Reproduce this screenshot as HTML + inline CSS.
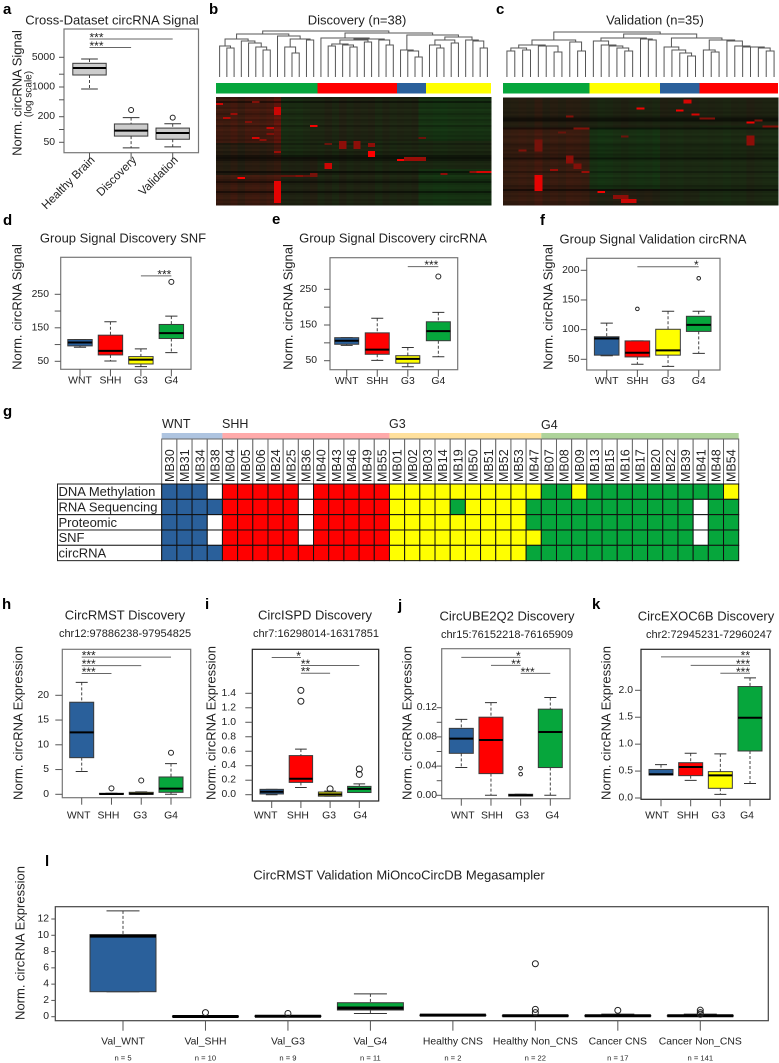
<!DOCTYPE html>
<html lang="en">
<head>
<meta charset="utf-8">
<title>circRNA signal figure</title>
<style>
html,body{margin:0;padding:0;background:#fff;}
svg{display:block;font-family:"Liberation Sans",Arial,sans-serif;fill:#222;filter:blur(0.3px);}
.ttl{font-size:13px;text-anchor:middle;dominant-baseline:central;}
.sub{font-size:11px;text-anchor:middle;dominant-baseline:central;}
.yt{font-size:13px;text-anchor:middle;dominant-baseline:central;}
.let{font-size:15px;font-weight:bold;fill:#000;}
.grp{font-size:12.5px;dominant-baseline:central;}
</style>
</head>
<body>
<svg id="fig" xmlns="http://www.w3.org/2000/svg" width="779" height="1063" viewBox="0 0 779 1063">
<rect x="0" y="0" width="779" height="1063" fill="#fff"/>

<text class="let" x="3" y="14">a</text>
<text class="let" x="209" y="14">b</text>
<text class="let" x="496" y="14">c</text>
<text class="let" x="3" y="225">d</text>
<text class="let" x="272" y="224">e</text>
<text class="let" x="540" y="225">f</text>
<text class="let" x="3" y="416">g</text>
<text class="let" x="2" y="609">h</text>
<text class="let" x="205" y="609">i</text>
<text class="let" x="398" y="610">j</text>
<text class="let" x="592" y="609">k</text>
<text class="let" x="45" y="866">l</text>

<text class="ttl" x="112" y="20">Cross-Dataset circRNA Signal</text>
<text class="yt" transform="translate(17 93) rotate(-90)">Norm. circRNA Signal</text>
<text font-size="10" text-anchor="middle" dominant-baseline="central" transform="translate(29 94) rotate(-90)">(log scale)</text>
<g id="panel-a"></g>

<text class="ttl" x="357" y="20">Discovery (n=38)</text>
<g id="panel-b"></g>

<text class="ttl" x="655" y="20">Validation (n=35)</text>
<g id="panel-c"></g>

<text class="ttl" x="123" y="238">Group Signal Discovery SNF</text>
<text class="yt" transform="translate(17 307) rotate(-90)">Norm. circRNA Signal</text>
<g id="panel-d"></g>

<text class="ttl" x="393" y="238">Group Signal Discovery circRNA</text>
<text class="yt" transform="translate(288 307) rotate(-90)">Norm. circRNA Signal</text>
<g id="panel-e"></g>

<text class="ttl" x="653" y="239">Group Signal Validation circRNA</text>
<text class="yt" transform="translate(548 307) rotate(-90)">Norm. circRNA Signal</text>
<g id="panel-f"></g>

<text class="grp" x="162" y="424">WNT</text>
<text class="grp" x="222" y="424">SHH</text>
<text class="grp" x="389" y="424">G3</text>
<text class="grp" x="541" y="425">G4</text>
<g id="panel-g"></g>

<text class="ttl" x="125" y="615">CircRMST Discovery</text>
<text class="sub" x="125" y="634">chr12:97886238-97954825</text>
<text class="yt" transform="translate(18 723) rotate(-90)">Norm. circRNA Expression</text>
<g id="panel-h"></g>

<text class="ttl" x="315" y="615">CircISPD Discovery</text>
<text class="sub" x="316" y="634">chr7:16298014-16317851</text>
<text class="yt" transform="translate(211 723) rotate(-90)">Norm. circRNA Expression</text>
<g id="panel-i"></g>

<text class="ttl" x="507" y="616">CircUBE2Q2 Discovery</text>
<text class="sub" x="507" y="635">chr15:76152218-76165909</text>
<text class="yt" transform="translate(407 723) rotate(-90)">Norm. circRNA Expression</text>
<g id="panel-j"></g>

<text class="ttl" x="706" y="616">CircEXOC6B Discovery</text>
<text class="sub" x="709" y="635">chr2:72945231-72960247</text>
<text class="yt" transform="translate(606 723) rotate(-90)">Norm. circRNA Expression</text>
<g id="panel-k"></g>

<text class="ttl" x="399" y="875">CircRMST Validation MiOncoCircDB Megasampler</text>
<text class="yt" transform="translate(20 943) rotate(-90)">Norm. circRNA Expression</text>
<g id="panel-l"></g>
</svg>

<script>
// ---------- Box plot data: each stats row is [upper whisker, Q3, median, Q1, lower whisker] ----------
const groupCats = ['WNT', 'SHH', 'G3', 'G4'];

const aCats = ['Healthy Brain', 'Discovery', 'Validation'];
const aStats = [[4560, 3610, 2800, 1915, 897], [190, 135, 94, 70, 37], [137, 108, 83, 59, 39]];
const aOutliers = [[], [288], [190]];
const aSig = [[0, 2, 13460, '***', 'start'], [0, 1, 8490, '***', 'start']];
const aTicks = [50, 100, 200, 500, 1000, 2000, 5000];
const aTickLabels = ['50', '', '200', '', '1000', '', '5000'];

const dStats = [[115, 115, 106, 96, 92], [168, 128, 81, 69, 51], [87, 64, 55, 42, 34], [185, 160, 134, 118, 76]];
const dOutliers = [[], [], [], [287]];
const dSig = [[2, 3, 305, '***', 'end']];
const dTicks = [50, 100, 150, 200, 250];
const dTickLabels = ['50', '', '150', '', '250'];

const eStats = [[114.5, 114.5, 106, 96, 93], [169, 128, 81, 68, 51], [87, 64, 55, 43, 33], [185.5, 159, 133, 106, 61]];
const eOutliers = [[], [], [], [286]];
const eSig = [[2, 3, 313.5, '***', 'end']];
const eTicks = [50, 100, 150, 200, 250];
const eTickLabels = ['50', '', '150', '', '250'];

const fStats = [[111, 88, 85, 57, 56], [81, 81, 61, 54, 41.6], [131, 100.6, 65, 57, 38], [131, 122.5, 108, 97, 60]];
const fOutliers = [[], [135], [], [186.5]];
const fSig = [[1, 3, 206, '*', 'end']];
const fTicks = [50, 100, 150, 200];
const fTickLabels = ['50', '100', '150', '200'];

const hStats = [[22.6, 18.6, 12.5, 7.4, 4.6], [0.2, 0.2, 0.07, 0, 0], [0.5, 0.4, 0.1, 0, 0], [6.2, 3.5, 1.15, 0.4, 0]];
const hOutliers = [[], [1.2], [2.8], [8.4]];
const hSig = [[0, 3, 27.7, '***', 'start'], [0, 2, 26, '***', 'start'], [0, 1, 24.4, '***', 'start']];
const hTicks = [0, 5, 10, 15, 20];
const hTickLabels = ['0', '5', '10', '15', '20'];

const iStats = [[0.074, 0.074, 0.04, 0.01, 0], [0.63, 0.54, 0.22, 0.17, 0.1], [0.05, 0.037, 0.005, -0.02, -0.02], [0.15, 0.115, 0.08, 0.03, 0.03]];
const iOutliers = [[], [1.44, 1.29], [0.08], [0.355, 0.28]];
const iSig = [[0, 1, 1.894, '*', 'end'], [1, 3, 1.783, '**', 'start'], [1, 2, 1.677, '**', 'start']];
const iTicks = [0, 0.2, 0.4, 0.6, 0.8, 1, 1.2, 1.4];
const iTickLabels = ['0.0', '0.2', '0.4', '0.6', '0.8', '1.0', '1.2', '1.4'];

const jStats = [[0.104, 0.0917, 0.0776, 0.0575, 0.038], [0.127, 0.107, 0.0757, 0.0297, 0], [0.0014, 0.0014, 0, -0.001, -0.001], [0.134, 0.118, 0.0867, 0.038, 0]];
const jOutliers = [[], [], [0.037, 0.029], []];
const jSig = [[0, 2, 0.189, '*', 'end'], [1, 2, 0.178, '**', 'end'], [2, 3, 0.167, '***', 'start']];
const jTicks = [0, 0.02, 0.04, 0.06, 0.08, 0.1, 0.12];
const jTickLabels = ['0.00', '', '0.04', '', '0.08', '', '0.12'];

const kStats = [[0.62, 0.53, 0.44, 0.427, 0.427], [0.83, 0.656, 0.576, 0.415, 0.328], [0.82, 0.49, 0.42, 0.18, 0.068], [2.23, 2.07, 1.49, 0.873, 0.27]];
const kOutliers = [[], [], [], []];
const kSig = [[0, 3, 2.62, '**', 'end'], [1, 3, 2.464, '***', 'end'], [2, 3, 2.316, '***', 'end']];
const kTicks = [0, 0.5, 1, 1.5, 2];
const kTickLabels = ['0.0', '0.5', '1.0', '1.5', '2.0'];

const lCats = ['Val_WNT', 'Val_SHH', 'Val_G3', 'Val_G4', 'Healthy CNS', 'Healthy Non_CNS', 'Cancer CNS', 'Cancer Non_CNS'];
const lCounts = ['n = 5', 'n = 10', 'n = 9', 'n = 11', 'n = 2', 'n = 22', 'n = 17', 'n = 141'];
const lStats = [[13, 10.08, 9.9, 3.07, 3.07], [0.06, 0.06, 0.03, 0, 0], [0.1, 0.1, 0.05, 0.02, 0.02], [2.8, 1.72, 1.07, 0.82, 0.4], [0.2, 0.2, 0.19, 0.18, 0.18], [0.14, 0.14, 0.12, 0.1, 0.1], [0.32, 0.14, 0.12, 0.1, 0.1], [0.32, 0.14, 0.12, 0.1, 0.1]];
const lOutliers = [[], [0.5], [0.4], [], [], [6.5, 0.9, 0.5], [0.78], [0.8, 0.5, 0.3]];
const lTicks = [0, 2, 4, 6, 8, 10, 12];
const lTickLabels = ['0', '2', '4', '6', '8', '10', '12'];

// ---------- Heatmap data ----------
const bGroups = [['G4', 14], ['SHH', 11], ['WNT', 4], ['G3', 9]];
const bTree = [46,
  [43,
    [38, [31, 0, [29, 0, 0]], [36, 0, [34, 0, [30, 0, [27, 0, 0]]]]],
    [41, 0, [38, [30, 0, [24, 0, 0]], [37, 0, 0]]]],
  [44,
    [39, 0, [38, [37, [33, [31, 0, 0], [32, 0, [30, 0, 0]]], [35, 0, 0]], [37, 0, [32, 0, 0]]]],
    [42,
      [27, 0, [26, 0, [20, 0, 0]]],
      [40, [37, [32, 0, [29, 0, 0]], [34, 0, 0]], [37, 0, [36, 0, [29, 0, 0]]]]]]];
const bColTint = [.02, 0, .05, -.02, .04, .05, .02, .06, .1, -.05, -.02, -.04, 0, .03, -.03, .03, -.04, .05, -.02, .03, 0, .03, -.05, .02, -.03, 0, -.02, .02, -.03, -.02, -.05, -.06, -.03, -.02, -.01, -.02, -.03, -.02];
const bRowGain = [.8, 1, .55, 1, 1, .9, 1.1, 1, .85, 1, 1.1, .9, 1, 1.1, .8, 1, 1.1, .95, 1, .9, 1, .85, 1, .75, 1, .9, 1.05, .8, .9, .55, .45, .6, .9, 1, .9, .95, 1, .45, .8, 1.1, 1, .85, .55, .9, 1, 1.05, .95, .5, .9, 1, 1.05, .9, 1, .85];
// [first column, end column, first row, end row, value]
const bRegions = [[0, 9, 0, 23, .17], [8, 9, 0, 30, .08], [9, 14, 0, 30, -.1], [14, 28, 0, 22, -.04], [28, 38, 0, 22, -.18], [0, 9, 23, 54, .04], [0, 9, 39, 54, .1], [14, 38, 22, 54, -.07], [28, 38, 36, 54, -.12], [14, 28, 38, 54, .02]];
const bHits = [[0, 1, 3, 4, .8], [1, 2, 10, 11, .7], [2, 3, 8, 9, .6], [4, 5, 12, 13, .5], [5, 6, 2, 3, .5], [5, 6, 20, 21, .85], [6, 7, 21, 22, .55], [7, 8, 15, 16, .75], [7, 8, 18, 19, .5], [8, 9, 5, 9, .8], [8, 9, 27, 28, .6], [13, 14, 14, 15, .95], [15, 16, 23, 24, .4], [15, 16, 33, 36, .8], [17, 18, 22, 26, .55], [19, 20, 22, 26, .55], [21, 22, 23, 25, .55], [21, 22, 27, 30, 1], [25, 26, 31, 32, 1], [26, 29, 30, 32, .6], [28, 29, 20, 21, .4], [31, 32, 38, 39, .55], [35, 36, 37, 38, .55], [36, 38, 37, 38, .85], [3, 4, 40, 41, 1], [8, 9, 42, 53, .9], [9, 13, 39, 40, .35], [11, 12, 39, 40, .5], [13, 14, 38, 40, .45]];

const cGroups = [['G4', 11], ['G3', 9], ['WNT', 5], ['SHH', 10]];
const cTree = [45,
  [37,
    [32, [29, [26, 0, 0], [27, 0, 0]], [31, 0, [31, 0, [25, 0, 0]]]],
    [35, 0, [26, 0, 0]]],
  [43,
    [39, [36, 0, [32, 0, [31, 0, [29, 0, [26, 0, 0]]]]], [38, 0, [37, 0, 0]]],
    [39,
      [30, 0, [27, 0, [24, 0, [21, 0, 0]]]],
      [37, [27, 0, [25, 0, 0]], [36, 0, [31, 0, [30, 0, [30, 0, [29, 0, [26, 0, 0]]]]]]]]]];
const cColTint = [.02, .03, .05, .03, .1, .02, .05, .02, .06, .05, .03, -.03, -.08, -.06, -.02, .02, -.02, -.05, -.03, -.07, -.02, -.04, -.06, -.02, -.03, -.03, -.01, -.02, -.05, -.01, -.02, .04, 0, -.02, -.03];
const cRowGain = [.8, 1, .9, 1, 1, .9, 1, .85, 1, .8, .5, .45, .9, 1, .9, .5, 1, 1, 1.1, .9, 1, 1.1, 1, .8, .9, 1, .85, 1, .8, .9, .5, .9, 1.05, 1, .9, 1, 1.05, .75, 1, 1.1, .9, 1, 1.05, 1, .8, .9, .45, .9, 1, .9, 1, 1.05, .9, .85];
const cRegions = [[0, 35, 0, 14, -.02], [0, 11, 15, 54, .11], [11, 20, 15, 46, -.15], [20, 25, 15, 46, -.08], [25, 35, 14, 54, -.09], [11, 20, 46, 54, .07], [20, 25, 46, 54, -.02], [0, 11, 0, 14, .03], [20, 25, 0, 10, .05]];
const cHits = [[23, 24, 1, 3, .85], [17, 18, 5, 6, .95], [22, 23, 6, 7, .95], [24, 25, 8, 9, .85], [8, 9, 9, 10, .5], [25, 27, 10, 11, .5], [31, 32, 12, 13, .95], [32, 33, 11, 12, .5], [33, 35, 14, 15, .5], [31, 32, 19, 24, .55], [4, 5, 21, 27, .45], [4, 5, 39, 47, .9], [2, 3, 26, 27, .5], [8, 9, 29, 33, .55], [9, 10, 33, 36, .5], [6, 7, 36, 37, .6], [10, 11, 37, 38, .6], [12, 13, 47, 48, .95], [14, 16, 49, 51, .55], [15, 17, 51, 53, .8], [9, 11, 15, 16, .5], [7, 8, 17, 18, .4], [15, 16, 19, 20, .4]];

// ---------- Subgroup grid data ----------
const sampleNames = ['MB30', 'MB31', 'MB34', 'MB38', 'MB04', 'MB05', 'MB06', 'MB24', 'MB25', 'MB36', 'MB40', 'MB43', 'MB46', 'MB49', 'MB55', 'MB01', 'MB02', 'MB03', 'MB14', 'MB19', 'MB50', 'MB51', 'MB52', 'MB53', 'MB47', 'MB07', 'MB08', 'MB09', 'MB13', 'MB15', 'MB16', 'MB17', 'MB20', 'MB22', 'MB39', 'MB41', 'MB48', 'MB54'];
const sampleGroupCounts = [['WNT', 4], ['SHH', 11], ['G3', 10], ['G4', 13]];
const platformNames = ['DNA Methylation', 'RNA Sequencing', 'Proteomic', 'SNF', 'circRNA'];
const platformCalls = [
  'bbbwrrrrrwrrrrryyyyyyyyyyggygggggggggy',
  'bbbbrrrrrwrrrrryyyygyyyyGggggggggggwgg'.toLowerCase(),
  'bbbwrrrrrwrrrrryyyyyyyyygggggggggggwgg',
  'bbbwrrrrrwrrrrryyyyyyyyyyggggggggggwgg',
  'bbbbrrrrrrrrrrryyyyyyyyygggggggggggggg'
];

// ---------- Drawing ----------
const SVGNS = 'http://www.w3.org/2000/svg';
const groupFill = {WNT: '#2a609b', SHH: '#ff0000', G3: '#ffff00', G4: '#06a63c'};
const bandFill = {WNT: '#aec4e0', SHH: '#ffaaaa', G3: '#ffe09c', G4: '#aed39a'};
const callFill = {b: '#2a609b', r: '#ff0000', y: '#ffff00', g: '#06a63c', w: '#ffffff'};

function add(parent, tag, attrs, text) {
  const el = document.createElementNS(SVGNS, tag);
  for (const k in attrs) el.setAttribute(k, attrs[k]);
  if (text !== undefined) el.textContent = text;
  parent.appendChild(el);
  return el;
}

function makeY(layout) {
  const t = layout.log ? Math.log10 : (v => v);
  const [v1, p1, v2, p2] = layout.cal;
  const k = (p2 - p1) / (t(v2) - t(v1));
  return v => p1 + (t(v) - t(v1)) * k;
}

function drawBoxPanel(id, layout, cats, stats, outliers, sigs, ticks, tickLabels, counts) {
  const g = document.getElementById(id);
  const [fx0, fy0, fx1, fy1] = layout.frame;
  const y = makeY(layout);
  const x = i => layout.x0 + i * layout.step;
  const hw = layout.hw;
  const tickLen = layout.ytick || 7;
  const xTickLen = layout.xtick || 7;
  const lineCol = layout.frameCol || '#777';

  const frame = add(g, 'rect', {x: fx0, y: fy0, width: fx1 - fx0, height: fy1 - fy0, fill: 'none', stroke: lineCol, 'stroke-width': 1.2});
  
  

  ticks.forEach((t, i) => {
    const tl = add(g, 'line', {x1: fx0 - tickLen, x2: fx0, y1: y(t), y2: y(t), stroke: '#555', 'stroke-width': 1});
    
    
    if (tickLabels[i]) {
      const lab = add(g, 'text', {x: layout.labelR, y: y(t), 'font-size': 10.4, 'text-anchor': 'end', 'dominant-baseline': 'central'}, tickLabels[i]);
      
      
    }
  });

  cats.forEach((c, i) => {
    const cx = x(i);
    const [hi, q3, med, q1, lo] = stats[i];
    const xt = add(g, 'line', {x1: cx, x2: cx, y1: fy1, y2: fy1 + xTickLen, stroke: '#555', 'stroke-width': 1});
    
    

    const whisk = add(g, 'path', {d: `M${cx} ${y(hi)}V${y(q3)}M${cx} ${y(q1)}V${y(lo)}`, stroke: '#444', 'stroke-width': 1, 'stroke-dasharray': '3 2', fill: 'none'});
    
    
    const caps = add(g, 'path', {d: `M${cx - hw / 2} ${y(hi)}H${cx + hw / 2}M${cx - hw / 2} ${y(lo)}H${cx + hw / 2}`, stroke: '#333', 'stroke-width': 1, fill: 'none'});
    
    

    const fill = layout.fill || groupFill[layout.fills ? layout.fills[i] : c];
    const box = add(g, 'rect', {x: cx - hw, y: y(q3), width: 2 * hw, height: Math.max(0.5, y(q1) - y(q3)), fill: fill, stroke: '#3a3a3a', 'stroke-width': 1});
    
    

    const m = add(g, 'line', {x1: cx - hw, x2: cx + hw, y1: y(med), y2: y(med), stroke: '#000', 'stroke-width': layout.medW || 2});
    
    

    outliers[i].forEach(o => {
      const pt = add(g, 'circle', {cx: cx, cy: y(o), r: layout.outR || 2.5, fill: 'none', stroke: '#222', 'stroke-width': 1});
      
      
    });

    const dx = layout.labelDx ? layout.labelDx[i] : 0;
    if (layout.rot) {
      const tx = cx + 6;
      const ty = fy1 + 8;
      const lab = add(g, 'text', {'font-size': 11.6, 'text-anchor': 'end', transform: `translate(${tx} ${ty}) rotate(-45)`}, c);
      
      
    } else {
      const lab = add(g, 'text', {x: cx + dx, y: layout.labelY, 'font-size': 10.4, 'text-anchor': 'middle', 'dominant-baseline': 'central'}, c);
      
      
    }
    if (counts) {
      const n = add(g, 'text', {x: cx, y: layout.countY, 'font-size': 7.6, 'text-anchor': 'middle', 'dominant-baseline': 'central'}, counts[i]);
      
      
    }
  });

  sigs.forEach(s => {
    const [a, b, val, label, align] = s;
    const yy = y(val);
    const bar = add(g, 'line', {x1: x(a), x2: x(b), y1: yy, y2: yy, stroke: '#666', 'stroke-width': 1});
    
    
    const tx = align === 'start' ? x(a) : x(b);
    const st = add(g, 'text', {x: tx, y: yy + 2.5, 'font-size': 12, 'text-anchor': align}, label);
    
    
  });
}

function heatColor(v, gain, hot) {
  const c = Math.max(-1, Math.min(1, v));
  let r, gg, b;
  if (c >= 0) {
    r = 32 + 223 * Math.pow(c, 1.2);
    gg = 32 * (1 - c);
    b = 18 * (1 - c);
  } else {
    r = Math.max(0, 32 + 50 * c);
    gg = 32 - 80 * c;
    b = 18;
  }
  const k = hot ? 1 : gain;
  return `rgb(${Math.round(r * k)},${Math.round(gg * k)},${Math.round(b * k)})`;
}

function countLeaves(n) {
  return n === 0 ? 1 : countLeaves(n[1]) + countLeaves(n[2]);
}

function drawDendro(g, tree, left, width, base, total) {
  const step = width / total;
  let next = 0;
  function walk(n) {
    if (n === 0) {
      const px = left + step * (next + 0.5);
      next += 1;
      return {x: px, y: base};
    }
    const a = walk(n[1]);
    const b = walk(n[2]);
    const yy = base - n[0];
    const p = add(g, 'path', {d: `M${a.x} ${a.y}V${yy}H${b.x}V${b.y}`, fill: 'none', stroke: '#555', 'stroke-width': 1});
    
    
    return {x: (a.x + b.x) / 2, y: yy};
  }
  walk(tree);
}

function drawHeatPanel(id, left, right, top, bottom, groups, tree, colTint, rowGain, regions, hits) {
  const g = document.getElementById(id);
  const width = right - left;
  const nCols = colTint.length;
  const nRows = rowGain.length;
  const cw = width / nCols;
  const ch = (bottom - top) / nRows;
  drawDendro(g, tree, left, width, 77, countLeaves(tree));

  let col = 0;
  groups.forEach(gr => {
    const seg = add(g, 'rect', {x: left + col * cw, y: 83, width: gr[1] * cw, height: 10.5, fill: groupFill[gr[0]], 'shape-rendering': 'crispEdges'});
    
    
    col += gr[1];
  });

  for (let r = 0; r < nRows; r++) {
    for (let c = 0; c < nCols; c++) {
      let v = colTint[c];
      regions.forEach(q => {
        if (c >= q[0] && c < q[1] && r >= q[2] && r < q[3]) v += q[4];
      });
      let hot = false;
      hits.forEach(q => {
        if (c >= q[0] && c < q[1] && r >= q[2] && r < q[3]) {
          v = q[4];
          hot = true;
        }
      });
      const cell = add(g, 'rect', {x: left + c * cw, y: top + r * ch, width: cw + 0.3, height: ch + 0.3, fill: heatColor(v, rowGain[r], hot), 'shape-rendering': 'crispEdges'});
      
      
    }
  }
}

function drawGrid() {
  const g = document.getElementById('panel-g');
  const left = 161.7;
  const cw = 577 / sampleNames.length;
  const headTop = 439;
  const rowTop = 484;
  const rh = 15.33;
  let col = 0;
  sampleGroupCounts.forEach(sg => {
    const band = add(g, 'rect', {x: left + col * cw, y: 433, width: sg[1] * cw, height: 6, fill: bandFill[sg[0]]});
    
    
    col += sg[1];
  });
  sampleNames.forEach((nm, i) => {
    const hc = add(g, 'rect', {x: left + i * cw, y: headTop, width: cw, height: rowTop - headTop, fill: '#fff', stroke: '#666', 'stroke-width': 1});
    
    
    const tx = add(g, 'text', {'font-size': 12.5, transform: `translate(${left + (i + 0.5) * cw + 4.6} 482) rotate(-90)`}, nm);
    
    
  });
  platformNames.forEach((p, r) => {
    const yy = rowTop + r * rh;
    const lc = add(g, 'rect', {x: 57.5, y: yy, width: left - 57.5, height: rh, fill: '#fff', stroke: '#222', 'stroke-width': 1});
    
    
    const lt = add(g, 'text', {x: 58.5, y: yy + rh / 2, 'font-size': 13, 'dominant-baseline': 'central'}, p);
    
    
    sampleNames.forEach((nm, c) => {
      const call = platformCalls[r][c];
      const cell = add(g, 'rect', {x: left + c * cw, y: yy, width: cw, height: rh, fill: callFill[call], stroke: '#111', 'stroke-width': 1});
      
      
    });
  });
}

drawBoxPanel('panel-a', {frame: [64, 29, 198.5, 152.7], x0: 89.5, step: 41.6, hw: 16.7, log: true, cal: [1000, 87, 50, 142.3], fill: '#cccccc', labelY: 0, rot: true, ytick: 5, labelR: 55}, aCats, aStats, aOutliers, aSig, aTicks, aTickLabels);
drawHeatPanel('panel-b', 216, 491, 97, 205, bGroups, bTree, bColTint, bRowGain, bRegions, bHits);
drawHeatPanel('panel-c', 503, 778, 97.7, 205, cGroups, cTree, cColTint, cRowGain, cRegions, cHits);
drawBoxPanel('panel-d', {frame: [60.7, 257.3, 191, 369.3], x0: 80, step: 30.45, hw: 12.2, cal: [50, 361.3, 250, 294.3], labelY: 381, ytick: 6, labelR: 49}, groupCats, dStats, dOutliers, dSig, dTicks, dTickLabels);
drawBoxPanel('panel-e', {frame: [330, 257.7, 457.7, 369.7], x0: 346.7, step: 30.55, hw: 12, cal: [50, 360.7, 250, 289.3], labelY: 381.7, ytick: 6, labelR: 317}, groupCats, eStats, eOutliers, eSig, eTicks, eTickLabels);
drawBoxPanel('panel-f', {frame: [586.7, 258.3, 720, 370], x0: 606.7, step: 30.67, hw: 12.3, outR: 1.8, cal: [50, 359.3, 200, 270.3], labelY: 381.7, ytick: 6, labelR: 579.5}, groupCats, fStats, fOutliers, fSig, fTicks, fTickLabels);
drawGrid();
drawBoxPanel('panel-h', {frame: [62.3, 649.3, 190.7, 797.7], x0: 81.7, step: 29.77, hw: 12, cal: [0, 794.3, 20, 695.3], labelY: 816, labelDx: [-3, -3, -1, 0], labelR: 49}, groupCats, hStats, hOutliers, hSig, hTicks, hTickLabels);
drawBoxPanel('panel-i', {frame: [252.3, 649.3, 378.7, 801], x0: 271.7, step: 29.2, hw: 11.7, outR: 3, frameCol: '#222', cal: [0, 794.7, 1.4, 693.3], labelY: 816, labelDx: [-6, -3, -1, 1], labelR: 236}, groupCats, iStats, iOutliers, iSig, iTicks, iTickLabels);
drawBoxPanel('panel-j', {frame: [441.7, 648.7, 570, 798.7], x0: 461.3, step: 29.67, hw: 12, outR: 1.8, xtick: 7, ytick: 5, cal: [0, 795.3, 0.12, 707.7], labelY: 816, labelDx: [1.5, 1, 1.5, 2], labelR: 437}, groupCats, jStats, jOutliers, jSig, jTicks, jTickLabels);
drawBoxPanel('panel-k', {frame: [641, 649.3, 770, 799.3], x0: 661, step: 29.67, hw: 12, frameCol: '#222', ytick: 6, cal: [0, 798, 2, 690.3], labelY: 816, labelDx: [-4, -3, -2, -3], labelR: 633}, groupCats, kStats, kOutliers, kSig, kTicks, kTickLabels);
drawBoxPanel('panel-l', {frame: [55.3, 906.7, 768.3, 1020.7], x0: 123, step: 82.47, hw: 33, medW: 3, outR: 3, frameCol: '#444', xtick: 10, ytick: 4, cal: [0, 1016.7, 12, 919], labelY: 1042, countY: 1058, labelR: 49, fills: ['WNT', 'SHH', 'G3', 'G4', 'SHH', 'SHH', 'SHH', 'SHH']}, lCats, lStats, lOutliers, [], lTicks, lTickLabels, lCounts);
</script>
</body>
</html>
